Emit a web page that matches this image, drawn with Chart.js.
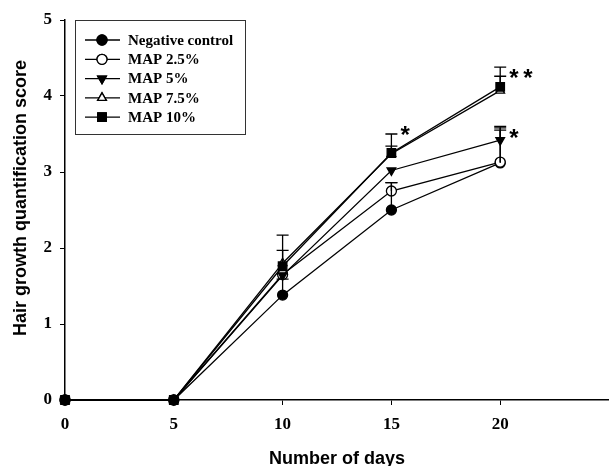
<!DOCTYPE html>
<html>
<head>
<meta charset="utf-8">
<script src="https://cdn.jsdelivr.net/npm/chart.js@4/dist/chart.umd.min.js"></script>
<style>
  html, body { margin: 0; padding: 0; background: #fff; }
  #wrap { width: 609px; height: 466px; position: relative; }
</style>
</head>
<body>
<div id="wrap"><canvas id="hair-chart"></canvas></div>
<script>
// days on the x axis
var days = [0, 5, 10, 15, 20];
var xTicks = [0, 5, 10, 15, 20];
var yTicks = [0, 1, 2, 3, 4, 5];

// mean scores per group
var negControl = [0, 0, 1.38, 2.50, 3.12];
var map25 = [0, 0, 1.65, 2.75, 3.13];
var map5 = [0, 0, 1.64, 3.02, 3.42];
var map75 = [0, 0, 1.80, 3.24, 4.07];
var map10 = [0, 0, 1.76, 3.25, 4.12];

// upper error (SD) per group
var negErr = [0, 0, 0.21, 0.36, 0.43];
var map25Err = [0, 0, 0, 0.11, 0.45];
var map5Err = [0, 0, 0, 0, 0.18];
var map75Err = [0, 0, 0.37, 0.10, 0.19];
var map10Err = [0, 0, 0.21, 0.25, 0.26];

// significance marks
var sigDays = [15, 20, 20];
var sigValues = [3.54, 4.29, 3.50];
var sigText = ['*', '**', '*'];

var seriesLabels = ['Negative control', 'MAP 2.5%', 'MAP 5%', 'MAP 7.5%', 'MAP 10%'];
var xTitle = 'Number of days';
var yTitle = 'Hair growth quantification score';

function pts(vals) {
  return days.map(function(d, i) { return { x: d, y: vals[i] }; });
}

function mkSet(idx, vals, errs, style, fill, rot) {
  return {
    label: seriesLabels[idx],
    data: pts(vals),
    errors: errs,
    order: 10 - idx,
    borderColor: '#000',
    borderWidth: 1.3,
    pointStyle: style,
    pointRotation: rot || 0,
    pointRadius: style === 'rect' ? 6 : 5,
    pointBackgroundColor: fill,
    pointBorderColor: '#000',
    pointBorderWidth: 1.3,
    tension: 0,
    clip: false
  };
}

// vertical error bars with caps, plus significance stars
var errorBars = {
  id: 'errorBars',
  afterDatasetsDraw: function(chart) {
    var ctx = chart.ctx, xs = chart.scales.x, ys = chart.scales.y;
    ctx.save();
    ctx.strokeStyle = '#000';
    ctx.lineWidth = 1.3;
    chart.data.datasets.forEach(function(ds) {
      ds.data.forEach(function(p, i) {
        var e = ds.errors[i];
        if (!e) return;
        var x = xs.getPixelForValue(p.x);
        var y0 = ys.getPixelForValue(p.y);
        var y1 = ys.getPixelForValue(p.y + e);
        ctx.beginPath();
        ctx.moveTo(x, y0); ctx.lineTo(x, y1);
        ctx.moveTo(x - 6, y1); ctx.lineTo(x + 6, y1);
        ctx.stroke();
      });
    });
    ctx.fillStyle = '#000';
    ctx.font = 'bold 24px "Liberation Sans", Arial, sans-serif';
    ctx.textAlign = 'left';
    ctx.textBaseline = 'middle';
    sigDays.forEach(function(d, i) {
      var x = xs.getPixelForValue(d) + 9;
      var y = ys.getPixelForValue(sigValues[i]) + 5;
      for (var k = 0; k < sigText[i].length; k++) {
        ctx.fillText(sigText[i][k], x + k * 14, y);
      }
    });
    ctx.restore();
  }
};

// boxed legend with line-through markers, and the axis titles
var boxLegend = {
  id: 'boxLegend',
  afterDraw: function(chart) {
    var ctx = chart.ctx, a = chart.chartArea;
    var left = a.left + 10, top = a.top, w = 170, h = 114;
    ctx.save();
    ctx.strokeStyle = '#333';
    ctx.lineWidth = 1;
    ctx.strokeRect(left + 0.5, top + 0.5, w, h);
    ctx.font = 'bold 15px "Liberation Serif", "Times New Roman", serif';
    ctx.textBaseline = 'middle';
    ctx.textAlign = 'left';
    chart.data.datasets.forEach(function(ds, i) {
      var y = top + 20 + i * 19.3;
      ctx.beginPath();
      ctx.strokeStyle = '#000';
      ctx.lineWidth = 1.3;
      ctx.moveTo(left + 10, y); ctx.lineTo(left + 45, y);
      ctx.stroke();
      Chart.helpers.drawPoint(ctx, {
        pointStyle: ds.pointStyle,
        rotation: ds.pointRotation,
        radius: ds.pointRadius,
        borderWidth: 1.3
      }, left + 27, y);
      ctx.fillStyle = ds.pointBackgroundColor;
      ctx.strokeStyle = '#000';
      ctx.fill();
      ctx.stroke();
      ctx.fillStyle = '#000';
      ctx.fillText(ds.label, left + 53, y + 1);
    });

    // axis titles
    ctx.font = 'bold 18px "Liberation Sans", Arial, sans-serif';
    ctx.textAlign = 'center';
    ctx.textBaseline = 'middle';
    ctx.fillText(xTitle, (a.left + a.right) / 2, a.bottom + 59);
    ctx.translate(21, (a.top + a.bottom) / 2 - 12);
    ctx.rotate(-Math.PI / 2);
    ctx.fillText(yTitle, 0, 0);
    ctx.restore();
  }
};

var tickFont = { family: '"Liberation Serif", "Times New Roman", serif', size: 17, weight: 'bold' };

new Chart(document.getElementById('hair-chart'), {
  type: 'line',
  data: {
    datasets: [
      mkSet(0, negControl, negErr, 'circle', '#000'),
      mkSet(1, map25, map25Err, 'circle', '#fff'),
      mkSet(2, map5, map5Err, 'triangle', '#000', 180),
      mkSet(3, map75, map75Err, 'triangle', '#fff'),
      mkSet(4, map10, map10Err, 'rect', '#000')
    ]
  },
  options: {
    responsive: true,
    maintainAspectRatio: false,
    animation: false,
    layout: { autoPadding: false, padding: { top: 20, right: 0, left: 0, bottom: 0 } },
    plugins: {
      legend: { display: false },
      tooltip: { enabled: false }
    },
    scales: {
      x: {
        type: 'linear',
        min: 0,
        max: 25,
        afterBuildTicks: function(s) { s.ticks = xTicks.concat([25]).map(function(v) { return { value: v }; }); },
        ticks: {
          color: '#000',
          font: tickFont,
          padding: 9,
          maxRotation: 0,
          callback: function(v) { return xTicks.indexOf(v) >= 0 ? String(v) : ''; }
        },
        grid: { drawOnChartArea: false, tickLength: 5, color: '#000', lineWidth: 1 },
        border: { color: '#000', width: 1.5 },
        afterFit: function(s) { s.height = 66; s.paddingRight = 0; }
      },
      y: {
        min: 0,
        max: 5,
        afterBuildTicks: function(s) { s.ticks = yTicks.map(function(v) { return { value: v }; }); },
        ticks: { color: '#000', font: tickFont, padding: 8 },
        grid: { drawOnChartArea: false, tickLength: 5, color: '#000', lineWidth: 1 },
        border: { color: '#000', width: 1.5 },
        afterFit: function(s) { s.width = 65; }
      }
    }
  },
  plugins: [errorBars, boxLegend]
});
</script>
</body>
</html>
